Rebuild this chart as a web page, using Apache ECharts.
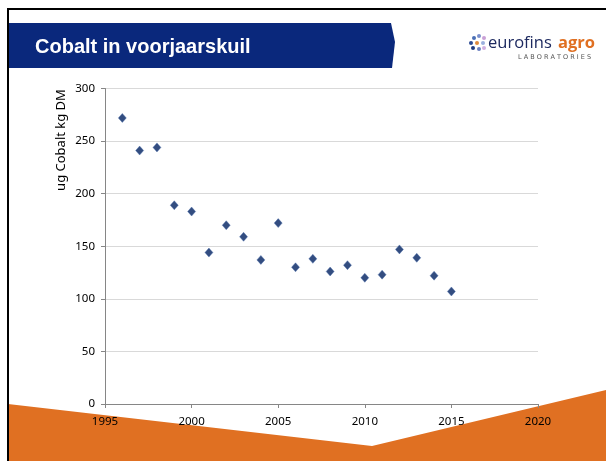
<!DOCTYPE html>
<html>
<head>
<meta charset="utf-8">
<script src="https://cdn.jsdelivr.net/npm/echarts@6/dist/echarts.min.js"></script>
<style>html,body{margin:0;padding:0;background:#fff}#c{width:606px;height:461px}</style>
</head>
<body>
<div id="c"></div>
<script>
const years = [1996,1997,1998,1999,2000,2001,2002,2003,2004,2005,2006,2007,2008,2009,2010,2011,2012,2013,2014,2015];
const cobalt = [272,241,244,189,183,144,170,159,137,172,130,138,126,132,120,123,147,139,122,107];
const xTicks = [1995,2000,2005,2010,2015,2020];
const yTicks = [0,50,100,150,200,250,300];
const titleText = 'Cobalt in voorjaarskuil';
const yTitle = 'ug Cobalt kg DM';

const chart = echarts.init(document.getElementById('c'), null, {renderer:'canvas'});
const lab = {fontFamily:'Noto Sans, sans-serif', fontSize:11.5, color:'#000'};
chart.setOption({
  animation:false,
  backgroundColor:'#fff',
  grid:{left:105, right:68, top:88.5, bottom:57, containLabel:false},
  xAxis:{type:'value', min:xTicks[0], max:xTicks[xTicks.length-1], interval:5,
    axisLine:{show:true, lineStyle:{color:'#868686', width:1}},
    axisTick:{show:true, length:4, lineStyle:{color:'#868686'}},
    splitLine:{show:false},
    axisLabel:Object.assign({margin:12, formatter:v=>String(v)}, lab)},
  yAxis:{type:'value', min:yTicks[0], max:yTicks[yTicks.length-1], interval:50,
    axisLine:{show:true, lineStyle:{color:'#868686', width:1}},
    axisTick:{show:true, length:4, lineStyle:{color:'#868686'}},
    splitLine:{show:true, lineStyle:{color:'#d9d9d9', width:1}},
    axisLabel:Object.assign({margin:10}, lab)},
  series:[{type:'scatter', symbol:'diamond', symbolSize:[8,9], z:5,
    itemStyle:{color:'#002060', borderColor:'#4a70b0', borderWidth:0.5},
    data:years.map((y,i)=>[y,cobalt[i]])}],
  graphic:[
    {type:'polygon', z:-10, silent:true, shape:{points:[[8,404],[372,446],[606,390],[606,461],[8,461]]}, style:{fill:'#e07022'}},
    {type:'rect', z:100, shape:{x:7,y:8,width:600,height:2}, style:{fill:'#000'}},
    {type:'rect', z:100, shape:{x:7,y:8,width:2,height:453}, style:{fill:'#000'}},
    {type:'polygon', z:50, shape:{points:[[9,23],[391,23],[395,42],[392,68],[9,68]]}, style:{fill:'#0a287c'}},
    {type:'text', z:60, style:{text:titleText, x:35, y:47, fill:'#fff', font:'bold 20px "Liberation Sans", Arial, sans-serif', textVerticalAlign:'middle'}},
    {type:'text', z:60, style:{text:yTitle, x:0, y:0, fill:'#000', font:'13px "Noto Sans", sans-serif', textAlign:'center', textVerticalAlign:'middle'}, x:61, y:140, rotation:Math.PI/2},
    ...[[474,38,'#4a6fb5'],[479,36,'#7a8fcc'],[484,38,'#c9a0d6'],[471,43,'#2c4a94'],[477,43,'#e08a3c'],[483,43,'#9bb0de'],[473,48,'#1f3a80'],[479,49,'#6a7fc0'],[484,48,'#d0b0e0']].map(p=>({type:'circle', z:60, shape:{cx:p[0],cy:p[1],r:2}, style:{fill:p[2]}})),
    {type:'text', z:60, style:{text:'eurofins', x:488, y:43, fill:'#1e2a60', font:'16.5px "Open Sans", sans-serif', textVerticalAlign:'middle'}},
    {type:'text', z:60, style:{text:'agro', x:558, y:43, fill:'#e07022', font:'bold 16.5px "Open Sans", sans-serif', textVerticalAlign:'middle'}},
    {type:'text', z:60, style:{text:'L A B O R A T O R I E S', x:518, y:57, fill:'#555', font:'6.5px "DejaVu Sans", sans-serif', textVerticalAlign:'middle'}}
  ]
});
</script>
</body>
</html>
